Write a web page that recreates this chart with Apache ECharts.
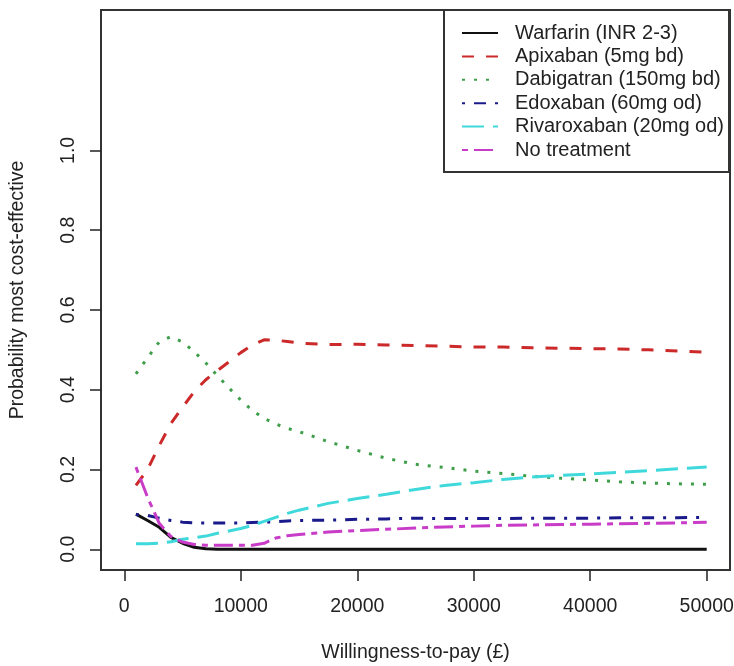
<!DOCTYPE html>
<html>
<head>
<meta charset="utf-8">
<script src="https://cdn.jsdelivr.net/npm/echarts@6/dist/echarts.min.js"></script>
<style>
  html, body { margin: 0; padding: 0; background: #fff; }
  #chart { width: 734px; height: 666px; }
</style>
</head>
<body>
<div id="chart"></div>
<script>
// willingness-to-pay grid (£)
const wtp = [1000, 2000, 3000, 4000, 5000, 6000, 7000, 8000, 9000, 10000,
  11000, 12000, 13000, 14000, 15000, 17500, 20000, 22500, 25000, 27500,
  30000, 32500, 35000, 37500, 40000, 42500, 45000, 47500, 50000]

// probability most cost-effective, per strategy
const warfarin = [0.088, 0.072, 0.055, 0.030, 0.015, 0.005, 0.001, 0, 0, 0,
  0, 0, 0, 0, 0, 0, 0, 0, 0, 0,
  0, 0, 0, 0, 0, 0, 0, 0, 0]
const apixaban = [0.160, 0.200, 0.260, 0.315, 0.356, 0.395, 0.425, 0.448, 0.470, 0.493,
  0.512, 0.525, 0.524, 0.521, 0.517, 0.513, 0.514, 0.512, 0.511, 0.509,
  0.507, 0.507, 0.505, 0.504, 0.503, 0.502, 0.500, 0.497, 0.494]
const dabigatran = [0.440, 0.480, 0.520, 0.533, 0.520, 0.495, 0.467, 0.435, 0.404, 0.374,
  0.348, 0.328, 0.314, 0.303, 0.295, 0.270, 0.248, 0.228, 0.213, 0.205,
  0.196, 0.190, 0.183, 0.178, 0.174, 0.169, 0.166, 0.164, 0.163]
const edoxaban = [0.087, 0.085, 0.078, 0.072, 0.068, 0.066, 0.066, 0.066, 0.066, 0.066,
  0.067, 0.068, 0.069, 0.071, 0.072, 0.073, 0.075, 0.076, 0.078, 0.077,
  0.077, 0.077, 0.078, 0.078, 0.078, 0.079, 0.079, 0.079, 0.080]
const rivaroxaban = [0.014, 0.014, 0.015, 0.019, 0.025, 0.029, 0.033, 0.040, 0.046, 0.052,
  0.060, 0.070, 0.080, 0.090, 0.098, 0.115, 0.127, 0.138, 0.150, 0.160,
  0.167, 0.175, 0.181, 0.185, 0.189, 0.193, 0.197, 0.202, 0.206]
const noTreatment = [0.206, 0.130, 0.065, 0.032, 0.018, 0.012, 0.010, 0.010, 0.010, 0.010,
  0.010, 0.015, 0.028, 0.034, 0.037, 0.043, 0.047, 0.050, 0.053, 0.056,
  0.058, 0.060, 0.061, 0.062, 0.063, 0.064, 0.065, 0.066, 0.068]

const seriesNames = ['Warfarin (INR 2-3)', 'Apixaban (5mg bd)', 'Dabigatran (150mg bd)',
  'Edoxaban (60mg od)', 'Rivaroxaban (20mg od)', 'No treatment']
const xTicks = [0, 10000, 20000, 30000, 40000, 50000]
const yTicks = [0, 0.2, 0.4, 0.6, 0.8, 1.0]

const font = 'Liberation Sans, Arial, sans-serif'
const textColor = '#222'

function makeSeries(name, values, color, dash) {
  return {
    name: name,
    type: 'line',
    symbol: 'none',
    data: wtp.map((x, i) => [x, values[i]]),
    lineStyle: { color: color, width: 3, type: dash },
    itemStyle: { color: color }
  }
}

const chart = echarts.init(document.getElementById('chart'))
chart.setOption({
  animation: false,
  backgroundColor: '#fff',
  textStyle: { fontFamily: font },
  grid: {
    left: 101, right: 4, top: 10, bottom: 96,
    outerBoundsMode: 'none',
    show: true, borderColor: '#333', borderWidth: 2
  },
  legend: {
    data: seriesNames,
    orient: 'vertical',
    right: 5,
    top: 10,
    padding: [13, 5, 12, 17],
    itemWidth: 36,
    itemHeight: 14,
    itemGap: 3.4,
    backgroundColor: '#fff',
    borderColor: '#333',
    borderWidth: 2,
    // hide the marker dot, keep only the line sample
    itemStyle: { color: 'rgba(0,0,0,0)', borderWidth: 0 },
    textStyle: {
      fontFamily: font, fontSize: 20, color: textColor,
      lineHeight: 20, padding: [0, 0, 0, 12]
    }
  },
  xAxis: {
    type: 'value',
    min: -2000,
    max: 52000,
    name: 'Willingness-to-pay (£)',
    nameLocation: 'middle',
    nameGap: 73,
    nameTextStyle: { fontFamily: font, fontSize: 19.5, color: textColor },
    axisLine: { show: false, onZero: false },
    splitLine: { show: false },
    axisTick: { show: true, length: 11, lineStyle: { color: '#222', width: 1.5 }, customValues: xTicks },
    axisLabel: {
      fontFamily: font, fontSize: 19.5, color: textColor, margin: 27,
      customValues: xTicks,
      formatter: v => String(v)
    }
  },
  yAxis: {
    type: 'value',
    min: -0.052,
    max: 1.352,
    name: 'Probability most cost-effective',
    nameLocation: 'middle',
    nameGap: 73,
    nameTextStyle: { fontFamily: font, fontSize: 19.5, color: textColor },
    axisLine: { show: false, onZero: false },
    splitLine: { show: false },
    axisTick: { show: true, length: 11, lineStyle: { color: '#222', width: 1.5 }, customValues: yTicks },
    axisLabel: {
      fontFamily: font, fontSize: 19.5, color: textColor, margin: 22,
      rotate: 90,
      customValues: yTicks,
      formatter: v => v.toFixed(1)
    }
  },
  series: [
    makeSeries(seriesNames[0], warfarin, '#111111', 'solid'),
    makeSeries(seriesNames[1], apixaban, '#cc2a2a', [12, 12]),
    makeSeries(seriesNames[2], dabigatran, '#3e9e4a', [3, 9]),
    makeSeries(seriesNames[3], edoxaban, '#1a1a8c', [3, 9, 12, 9]),
    makeSeries(seriesNames[4], rivaroxaban, '#40d9db', [22, 9]),
    makeSeries(seriesNames[5], noTreatment, '#c83cc8', [6, 6, 19, 6])
  ]
})
</script>
</body>
</html>
